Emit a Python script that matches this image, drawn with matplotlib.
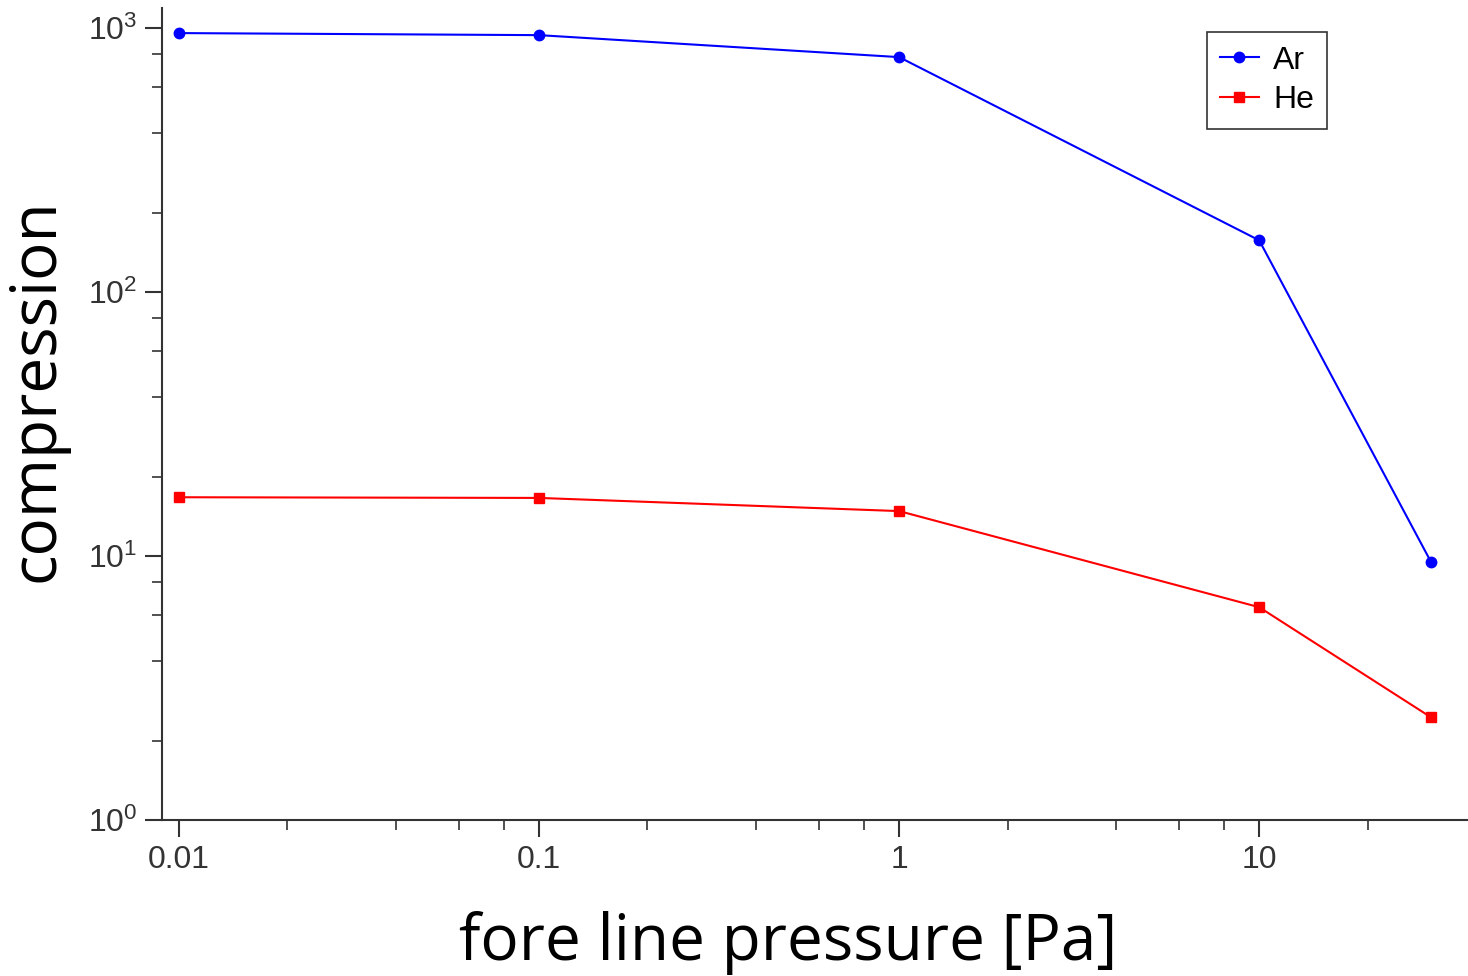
import matplotlib.pyplot as plt

# data
pressure = [0.01, 0.1, 1, 10, 30]
ar_compression = [957, 940, 776, 157, 9.5]
he_compression = [16.7, 16.6, 14.8, 6.4, 2.45]

fig = plt.figure(figsize=(14.68, 9.76), dpi=100)
ax = fig.add_axes([0.1104, 0.1598, 0.889, 0.832])

ax.plot(pressure, ar_compression, color="blue", marker="o", markersize=7.5, linewidth=1.5, label="Ar")
ax.plot(pressure, he_compression, color="red", marker="s", markersize=7, linewidth=1.5, label="He")

ax.set_xscale("log")
ax.set_yscale("log")

ax.set_xticks([0.01, 0.1, 1, 10])
ax.set_xticklabels(["0.01", "0.1", "1", "10"])
ax.set_xticks([m * 10.0**e for e in range(-2, 2) for m in (2, 4, 6, 8)], minor=True)
ax.set_xticklabels([], minor=True)
ax.set_yticks([1, 10, 100, 1000])
ax.set_yticklabels([r"$\mathregular{10^{0}}$", r"$\mathregular{10^{1}}$",
                    r"$\mathregular{10^{2}}$", r"$\mathregular{10^{3}}$"])
ax.set_yticks([m * 10.0**e for e in range(0, 3) for m in (2, 4, 6, 8)], minor=True)
ax.set_yticklabels([], minor=True)
# limits after ticks, so the minor ticks do not widen the view
ax.set_xlim(0.00897, 37.8)
ax.set_ylim(1, 1191)

for s in ["top", "right"]:
    ax.spines[s].set_visible(False)
for s in ["left", "bottom"]:
    ax.spines[s].set_color("#333333")
    ax.spines[s].set_linewidth(1.5)

ax.tick_params(which="major", length=12, width=1.5, color="#333333", labelsize=23,
               labelcolor="#333333", pad=6)
ax.tick_params(which="minor", length=7, width=1.2, color="#333333")
for lab in ax.get_xticklabels() + ax.get_yticklabels():
    lab.set_family("Liberation Sans")

ax.set_xlabel("fore line pressure [Pa]", fontsize=46, family="Open Sans", labelpad=26)
ax.xaxis.label.set_x(0.48)
ax.set_ylabel("compression", fontsize=46, family="Open Sans")
ax.yaxis.set_label_coords(-0.072, 0.53)

leg = ax.legend(loc="upper right", bbox_to_anchor=(0.905, 0.99),
                fancybox=False, framealpha=1, handlelength=1.2, handletextpad=0.45,
                borderpad=0.42, labelspacing=0.3,
                prop={"family": "Liberation Sans", "size": 23})
leg.get_frame().set_edgecolor("#333333")
leg.get_frame().set_linewidth(1.2)

fig.savefig("out.png", dpi=100)
